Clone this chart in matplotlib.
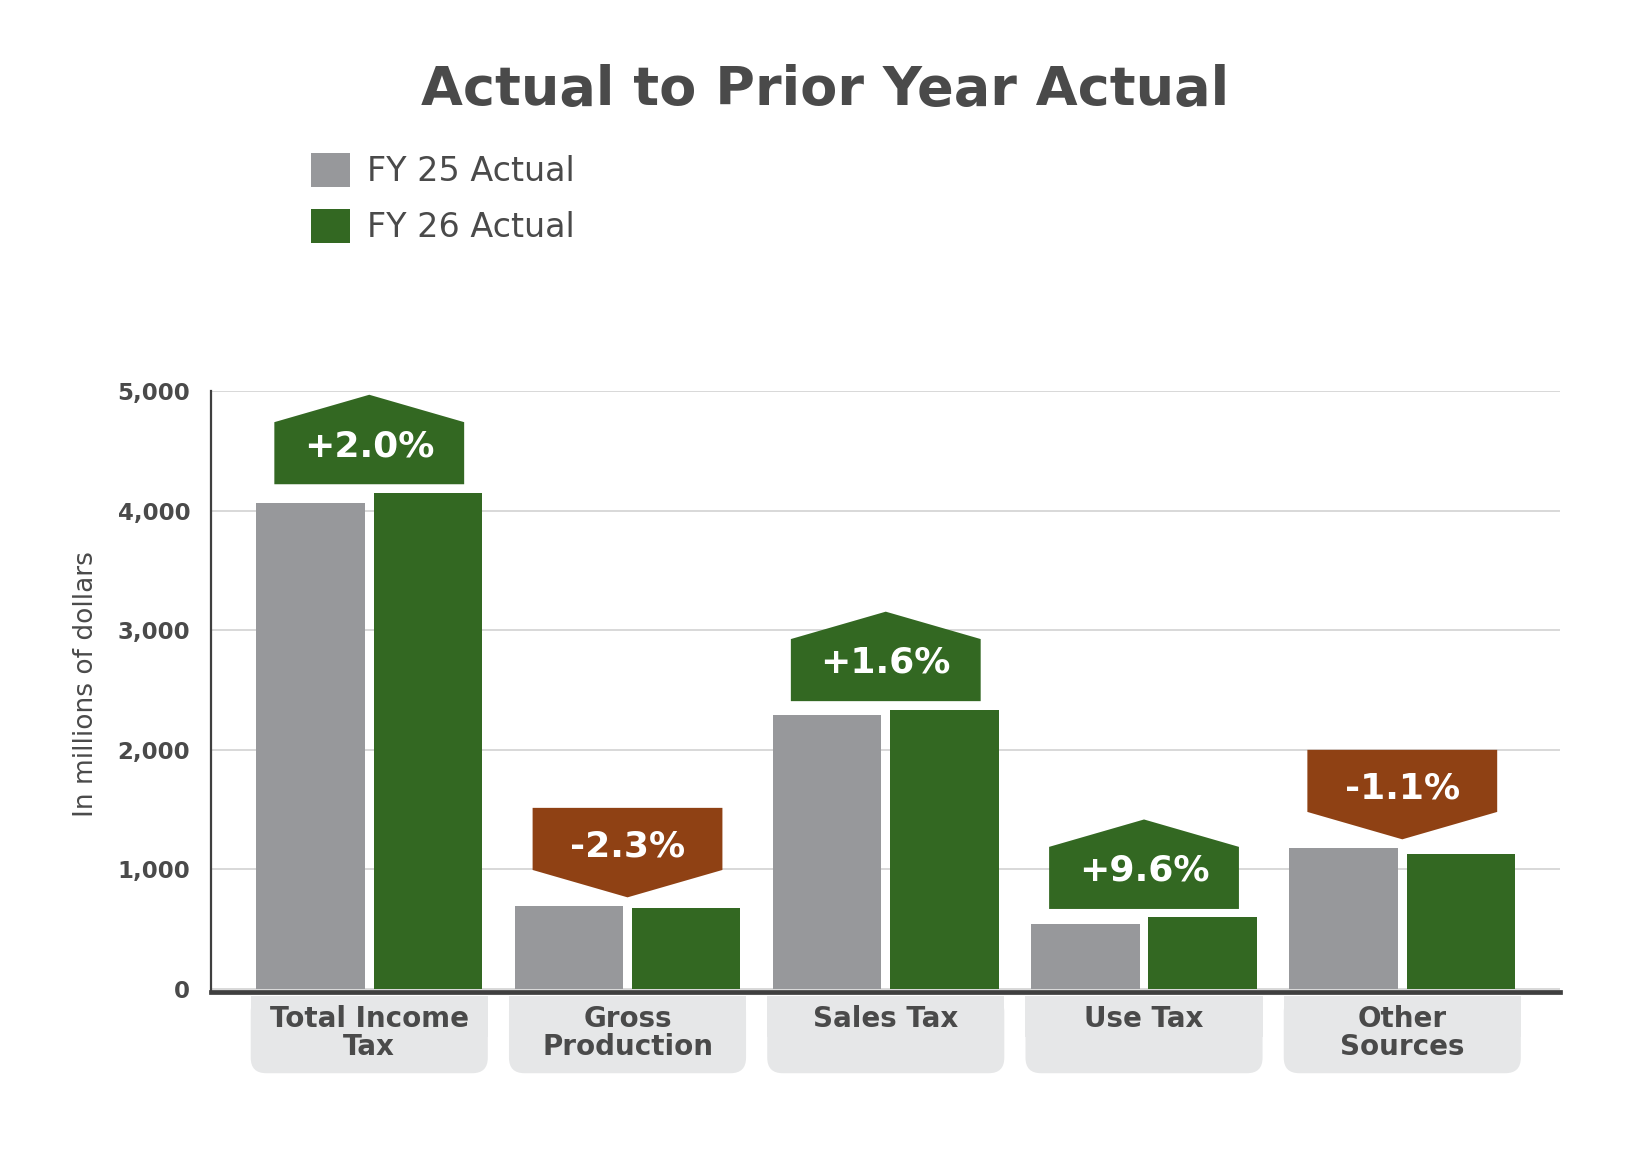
import matplotlib.pyplot as plt
from matplotlib.patches import Polygon, FancyBboxPatch, Rectangle

# data
categories = ['Total Income\nTax', 'Gross\nProduction', 'Sales Tax', 'Use Tax', 'Other\nSources']
series = ['FY 25 Actual', 'FY 26 Actual']
fy25 = [4065, 697, 2293, 547, 1182]
fy26 = [4150, 680, 2337, 600, 1128]
changes = ['+2.0%', '-2.3%', '+1.6%', '+9.6%', '-1.1%']
yticks = [0, 1000, 2000, 3000, 4000, 5000]
ytick_labels = ['0', '1,000', '2,000', '3,000', '4,000', '5,000']

GRAY = '#97989b'
GREEN = '#336822'
ORANGE = '#8f4114'
TEXT = '#4a4a4a'
BOXBG = '#e6e7e8'

plt.rcParams['font.family'] = ['DejaVu Sans']

fig = plt.figure(figsize=(16.5, 11.59), dpi=100)
ax = fig.add_axes([0.128, 0.144, 0.8175, 0.5187])

x = list(range(len(categories)))
w = 0.42
off = 0.227
b1 = ax.bar([i - off for i in x], fy25, w, color=GRAY, label=series[0], zorder=3)
b2 = ax.bar([i + off for i in x], fy26, w, color=GREEN, label=series[1], zorder=3)

ax.set_xlim(-0.612, 4.611)
ax.set_ylim(-25, 5000)
ax.set_yticks(yticks)
ax.set_yticklabels(ytick_labels, fontsize=16.5, fontweight='bold', color=TEXT)
ax.tick_params(axis='y', length=0, pad=15)
ax.set_xticks([])
ax.grid(axis='y', color='#d5d5d5', linewidth=1.3, zorder=0)
for s in ['top', 'right']:
    ax.spines[s].set_visible(False)
ax.spines['left'].set_color('#3f3f3f')
ax.spines['left'].set_linewidth(1.6)
ax.spines['bottom'].set_color('#3f3f3f')
ax.spines['bottom'].set_linewidth(3.4)
ax.set_ylabel('In millions of dollars', fontsize=19, color=TEXT)
ax.yaxis.set_label_coords(-0.083, 0.512)

# change badges
hw = 0.3675
body = 519
point = 229
gap = 70
shift = 60
for i in x:
    base = max(fy25[i], fy26[i]) + gap
    up = changes[i].startswith('+')
    if up:
        pts = [(i - hw, base), (i + hw, base), (i + hw, base + body),
               (i, base + body + point), (i - hw, base + body)]
        ty = base + body / 2 + shift
        col = GREEN
    else:
        pts = [(i, base), (i + hw, base + point), (i + hw, base + point + body),
               (i - hw, base + point + body), (i - hw, base + point)]
        ty = base + point + body / 2 - shift
        col = ORANGE
    ax.add_patch(Polygon(pts, closed=True, facecolor=col, edgecolor='none', zorder=4))
    ax.text(i, ty, changes[i], ha='center', va='center', color='white',
            fontsize=26, fontweight='bold', zorder=5)

# category label boxes
bw = 0.918
for i in x:
    ax.add_patch(FancyBboxPatch((i - bw / 2, -703), bw, 644,
                                boxstyle='round,pad=0,rounding_size=0.06',
                                mutation_aspect=2161, facecolor=BOXBG,
                                edgecolor='none', clip_on=False, zorder=1))
    ax.add_patch(Rectangle((i - bw / 2, -400), bw, 341, facecolor=BOXBG,
                           edgecolor='none', clip_on=False, zorder=1))
    ax.text(i, -135, categories[i], ha='center', va='top', color=TEXT,
            fontsize=20, fontweight='bold', linespacing=1.0, clip_on=False, zorder=2)

fig.text(0.5, 0.909, 'Actual to Prior Year Actual', ha='center', va='baseline',
         fontsize=39, fontweight='bold', color=TEXT)

fig.legend(handles=[b1, b2], labels=series, loc='upper left',
           bbox_to_anchor=(0.1885, 0.868), frameon=False, fontsize=24,
           handlelength=1.18, handleheight=1.18, handletextpad=0.5,
           labelspacing=0.62, borderaxespad=0, borderpad=0, labelcolor=TEXT)

fig.savefig('out.png', dpi=100, facecolor='white')
